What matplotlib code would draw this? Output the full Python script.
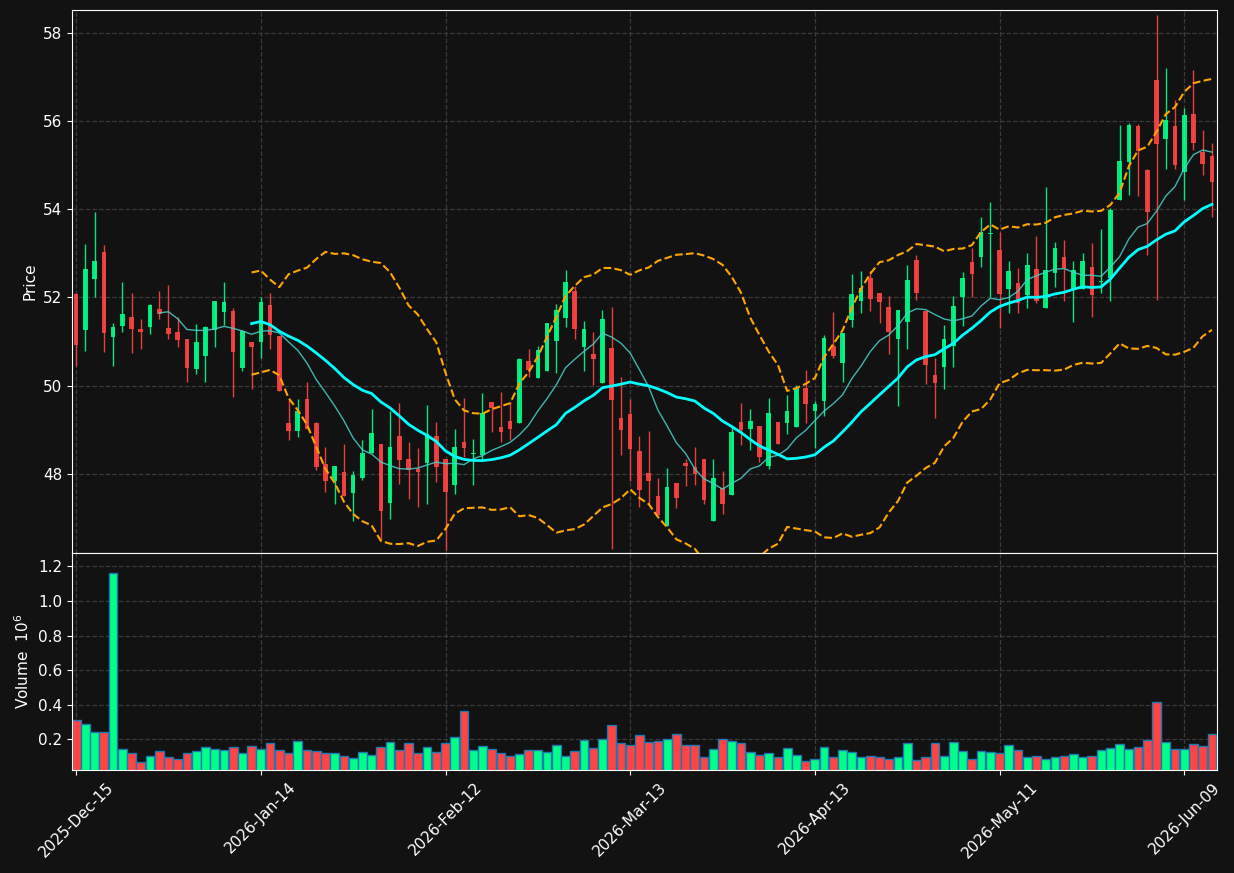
import numpy as np
import pandas as pd
import matplotlib
matplotlib.use('Agg')
import matplotlib.pyplot as plt

# OHLC (one row per trading day)
opens = [52.07, 51.26, 52.41, 53.03, 51.11, 51.35, 51.55, 51.28, 51.33, 51.73,
         51.30, 51.21, 51.06, 50.38, 50.68, 51.26, 51.67, 51.69, 50.41, 50.99,
         50.99, 51.83, 51.12, 49.15, 48.98, 49.70, 49.15, 48.22, 47.85, 48.04,
         47.56, 47.91, 48.47, 48.69, 47.35, 48.85, 48.35, 48.11, 48.24, 48.85,
         48.35, 47.75, 48.72, 48.46, 48.43, 49.64, 49.06, 49.19, 49.15, 50.56,
         50.18, 50.34, 51.02, 51.54, 52.14, 50.88, 50.72, 50.07, 50.85, 49.26,
         49.36, 48.53, 48.03, 47.50, 46.83, 47.79, 48.25, 48.15, 48.33, 46.94,
         47.69, 47.53, 49.17, 49.02, 49.09, 48.19, 49.17, 49.16, 49.07, 49.95,
         49.43, 49.66, 50.90, 50.52, 51.49, 51.92, 52.45, 52.11, 51.78, 51.06,
         51.45, 52.85, 51.69, 50.24, 50.43, 50.90, 52.01, 52.80, 52.92, 53.43,
         53.07, 52.19, 52.32, 52.05, 52.64, 51.77, 52.56, 52.91, 52.20, 52.19,
         52.69, 52.34, 52.43, 54.20, 55.07, 55.88, 54.88, 56.92, 55.59, 55.88,
         54.84, 56.15, 55.29, 55.20]
highs = [52.10, 53.22, 53.93, 53.18, 51.42, 52.34, 52.09, 51.51, 51.86, 52.14,
         52.27, 51.56, 51.06, 51.39, 51.35, 51.92, 52.34, 51.75, 51.26, 50.99,
         52.01, 52.09, 51.12, 49.70, 49.70, 50.09, 49.17, 48.62, 48.19, 48.69,
         48.06, 48.77, 49.47, 48.69, 49.42, 49.60, 48.72, 48.58, 49.56, 49.18,
         48.35, 49.03, 49.71, 48.80, 49.83, 49.64, 49.86, 49.63, 50.62, 50.82,
         50.90, 51.41, 51.86, 52.63, 52.26, 51.46, 51.21, 51.71, 51.79, 50.20,
         49.70, 48.87, 48.98, 47.90, 48.13, 47.79, 48.34, 48.61, 48.33, 48.33,
         48.07, 49.07, 49.61, 49.48, 49.09, 49.71, 49.17, 49.78, 50.01, 50.35,
         49.66, 51.14, 51.67, 51.19, 52.54, 52.59, 52.59, 52.11, 52.03, 51.72,
         52.73, 52.95, 51.69, 50.62, 51.37, 52.04, 52.57, 53.13, 53.83, 54.17,
         53.47, 52.82, 52.66, 53.00, 53.40, 54.49, 53.25, 53.31, 52.82, 53.00,
         53.23, 53.56, 54.02, 55.90, 55.95, 55.92, 54.91, 58.39, 57.19, 56.47,
         56.28, 57.16, 55.80, 55.50]
lows = [50.44, 50.79, 52.01, 50.77, 50.44, 51.22, 50.73, 50.82, 51.18, 51.52,
        51.05, 50.87, 50.09, 50.26, 50.09, 50.87, 51.37, 49.75, 50.34, 49.93,
        50.63, 50.84, 49.87, 48.77, 48.83, 49.03, 48.09, 47.60, 47.33, 47.51,
        46.94, 47.86, 48.47, 46.50, 46.99, 47.77, 47.43, 47.26, 47.32, 47.81,
        46.28, 47.54, 48.39, 47.75, 48.32, 48.94, 48.73, 48.77, 49.15, 50.20,
        50.18, 50.34, 50.28, 51.33, 51.05, 50.33, 50.01, 50.07, 46.31, 48.44,
        47.85, 47.26, 47.33, 47.07, 46.83, 47.23, 47.73, 47.74, 47.33, 46.94,
        47.09, 47.53, 48.65, 48.55, 48.28, 48.11, 48.69, 48.90, 49.07, 49.16,
        48.59, 49.32, 50.62, 50.09, 51.34, 51.64, 51.69, 51.41, 50.71, 49.55,
        50.84, 51.95, 50.04, 49.26, 49.92, 50.43, 51.35, 52.00, 52.68, 52.00,
        51.30, 51.64, 51.64, 51.77, 51.88, 51.77, 52.24, 51.92, 51.45, 52.19,
        51.55, 52.09, 51.92, 54.20, 54.32, 54.29, 52.96, 51.94, 54.91, 54.90,
        54.20, 55.35, 54.77, 53.81]
closes = [50.92, 52.64, 52.82, 51.20, 51.33, 51.62, 51.28, 51.22, 51.83, 51.63,
          51.18, 51.04, 50.41, 50.99, 51.33, 51.92, 51.89, 50.77, 51.24, 50.87,
          51.89, 51.15, 49.88, 48.98, 49.42, 49.03, 48.16, 47.85, 48.19, 47.51,
          47.97, 48.47, 48.93, 47.17, 48.62, 48.32, 48.10, 48.05, 48.90, 48.16,
          47.60, 48.60, 48.59, 48.48, 49.37, 49.49, 48.96, 49.02, 50.60, 50.35,
          50.81, 51.41, 51.71, 52.35, 51.29, 51.28, 50.60, 51.51, 49.68, 48.99,
          48.57, 47.64, 47.85, 47.07, 47.70, 47.46, 48.19, 48.00, 47.42, 47.92,
          47.33, 48.94, 48.99, 49.19, 48.39, 49.37, 48.69, 49.43, 49.95, 49.58,
          49.58, 51.08, 50.67, 51.19, 52.07, 52.21, 51.97, 51.90, 51.22, 51.71,
          52.39, 52.10, 50.47, 50.07, 51.06, 51.80, 52.44, 52.53, 53.49, 53.45,
          52.07, 52.60, 51.88, 52.73, 51.92, 52.61, 53.12, 52.66, 52.62, 52.82,
          52.05, 52.36, 53.98, 55.09, 55.90, 55.32, 53.93, 55.47, 56.02, 55.00,
          56.13, 55.50, 55.02, 54.62]
# volume in millions
volume = [0.310, 0.287, 0.244, 0.244, 1.160, 0.146, 0.122, 0.067, 0.105, 0.134,
          0.100, 0.088, 0.119, 0.130, 0.157, 0.146, 0.140, 0.157, 0.119, 0.163,
          0.146, 0.177, 0.140, 0.122, 0.192, 0.140, 0.134, 0.122, 0.122, 0.105,
          0.094, 0.125, 0.111, 0.157, 0.186, 0.136, 0.177, 0.119, 0.157, 0.125,
          0.177, 0.215, 0.365, 0.136, 0.163, 0.146, 0.119, 0.105, 0.117, 0.140,
          0.140, 0.125, 0.169, 0.105, 0.130, 0.198, 0.151, 0.203, 0.281, 0.180,
          0.165, 0.223, 0.183, 0.188, 0.203, 0.229, 0.165, 0.165, 0.100, 0.146,
          0.200, 0.192, 0.177, 0.125, 0.111, 0.119, 0.100, 0.151, 0.111, 0.073,
          0.088, 0.157, 0.096, 0.140, 0.125, 0.100, 0.105, 0.096, 0.088, 0.096,
          0.177, 0.082, 0.096, 0.177, 0.105, 0.183, 0.130, 0.088, 0.130, 0.125,
          0.119, 0.165, 0.136, 0.096, 0.105, 0.084, 0.096, 0.105, 0.113, 0.100,
          0.105, 0.136, 0.151, 0.171, 0.146, 0.157, 0.194, 0.414, 0.183, 0.142,
          0.142, 0.171, 0.160, 0.229]

holidays = ['2025-12-25', '2026-01-01', '2026-01-19', '2026-02-16',
            '2026-04-03', '2026-05-25']
dates = pd.bdate_range('2025-12-15', periods=len(closes), freq='C', holidays=holidays)

df = pd.DataFrame({'Open': opens, 'High': highs, 'Low': lows,
                   'Close': closes, 'Volume': volume}, index=dates)
df['ma10'] = df['Close'].rolling(10).mean()
df['ma20'] = df['Close'].rolling(20).mean()
std20 = df['Close'].rolling(20).std(ddof=0)
df['bb_up'] = df['ma20'] + 2 * std20
df['bb_lo'] = df['ma20'] - 2 * std20

bg = '#121212'
up_c = '#00ff88'
dn_c = '#ff4444'

fig = plt.figure(figsize=(12.34, 8.73), dpi=100, facecolor=bg)
ax = fig.add_axes([72 / 1234, 320 / 873, 1145 / 1234, 543 / 873])
axv = fig.add_axes([72 / 1234, 103 / 873, 1145 / 1234, 217 / 873], sharex=ax)

x = np.arange(len(df))
up = df['Close'] >= df['Open']
colors = np.where(up, up_c, dn_c)

# candles
ax.vlines(x, df['Low'], df['High'], colors=colors, linewidth=1, alpha=0.9, zorder=2)
body = (df['Close'] - df['Open']).abs().clip(lower=0.02)
ax.bar(x, body, bottom=df[['Open', 'Close']].min(axis=1), width=0.5,
       color=colors, alpha=0.9, linewidth=0, zorder=3)

# indicators
ax.plot(x, df['ma10'], color='#48d1cc', linewidth=1, alpha=0.85, zorder=4)
ax.plot(x, df['ma20'], color='#00ffff', linewidth=2, zorder=4)
ax.plot(x, df['bb_up'], color='#ffa500', linewidth=1.5, linestyle='--', zorder=4)
ax.plot(x, df['bb_lo'], color='#ffa500', linewidth=1.5, linestyle='--', zorder=4)

# volume
axv.bar(x, df['Volume'], width=0.95, color=colors, edgecolor='#1f77b4', linewidth=1)

ticks = x[::20]
for a in (ax, axv):
    a.set_facecolor(bg)
    a.grid(True, color='#3a3a3a', linestyle='--', linewidth=0.9)
    a.set_axisbelow(True)
    for s in a.spines.values():
        s.set_color('white')
    a.tick_params(colors='white', labelsize=11)
    a.set_xticks(ticks)

ax.set_xlim(-0.45, len(df) - 0.45)
ax.set_ylim(46.21, 58.51)
ax.set_yticks([48, 50, 52, 54, 56, 58])
ax.set_ylabel('Price', color='white', fontsize=11)
ax.tick_params(axis='x', labelbottom=False)

axv.set_ylim(0.023, 1.277)
axv.set_yticks([0.2, 0.4, 0.6, 0.8, 1.0, 1.2])
axv.set_ylabel('Volume  $10^6$', color='white', fontsize=11)
axv.set_xticklabels([d.strftime('%Y-%b-%d') for d in df.index[ticks]],
                    rotation=45, ha='center')

fig.savefig('out.png', dpi=100, facecolor=bg)
